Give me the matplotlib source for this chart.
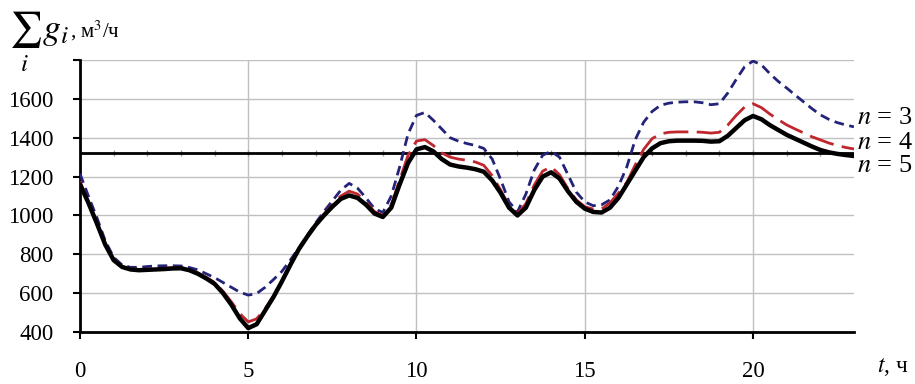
import numpy as np
import matplotlib
matplotlib.use("Agg")
import matplotlib.pyplot as plt

plt.rcParams['font.family'] = ['Liberation Serif', 'DejaVu Serif']
plt.rcParams['mathtext.fontset'] = 'stix'

# time axis, hours (quarter-hour steps)
t = np.arange(0, 23.01, 0.25)

# total flow for n = 3, 4, 5
g_n3 = [1215, 1100, 990, 870, 785, 745, 733, 733,
        737, 740, 741, 741, 740, 732, 720, 700,
        680, 655, 630, 605, 590, 598, 630, 670,
        712, 770, 832, 897, 960, 1020, 1075, 1130,
        1165, 1140, 1090, 1035, 1015, 1100, 1250, 1420,
        1515, 1530, 1490, 1445, 1400, 1382, 1370, 1360,
        1345, 1290, 1185, 1070, 1018, 1110, 1234, 1310,
        1330, 1300, 1210, 1120, 1070, 1050, 1055, 1080,
        1150, 1250, 1390, 1480, 1535, 1567, 1578, 1583,
        1585, 1585, 1580, 1570, 1575, 1630, 1700, 1765,
        1795, 1775, 1730, 1690, 1656, 1620, 1585, 1550,
        1518, 1495, 1478, 1466, 1456]
g_n4 = [1175, 1070, 965, 855, 775, 738, 725, 722,
        724, 726, 728, 731, 732, 722, 705, 682,
        655, 610, 555, 495, 452, 468, 520, 585,
        662, 745, 828, 893, 955, 1007, 1055, 1100,
        1125, 1110, 1068, 1020, 1000, 1055, 1183, 1310,
        1383, 1390, 1360, 1322, 1300, 1290, 1284, 1275,
        1258, 1205, 1131, 1050, 1010, 1060, 1157, 1228,
        1250, 1210, 1138, 1080, 1045, 1033, 1033, 1065,
        1115, 1170, 1260, 1340, 1395, 1420, 1428, 1430,
        1430, 1430, 1428, 1424, 1428, 1465, 1515, 1558,
        1575, 1555, 1522, 1493, 1466, 1445, 1425, 1405,
        1389, 1373, 1360, 1350, 1342]
g_n5 = [1160, 1065, 960, 850, 770, 735, 722, 718,
        720, 722, 724, 727, 728, 718, 700, 676,
        648, 600, 540, 470, 420, 440, 510, 580,
        660, 745, 825, 890, 950, 1000, 1045, 1085,
        1103, 1090, 1055, 1010, 992, 1040, 1160, 1270,
        1340, 1352, 1330, 1290, 1262, 1252, 1246, 1238,
        1225, 1180, 1116, 1040, 1000, 1040, 1131, 1200,
        1222, 1190, 1125, 1070, 1035, 1018, 1015, 1040,
        1090, 1160, 1230, 1300, 1345, 1372, 1382, 1385,
        1385, 1385, 1384, 1380, 1382, 1410, 1450, 1490,
        1512, 1495, 1465, 1440, 1415, 1395, 1375, 1355,
        1337, 1325, 1317, 1311, 1306]

# average level line
g_mean = 1320
hours = np.arange(1, 23)

fig = plt.figure(figsize=(9.15, 3.84), dpi=100)
ax = fig.add_axes([0.0874, 0.1354, 0.8459, 0.7083])

ax.set_xlim(0, 23)
ax.set_ylim(400, 1800)
ax.set_xticks([0, 5, 10, 15, 20])
ax.set_yticks(np.arange(400, 1801, 200))
ax.set_yticklabels([str(v) for v in range(400, 1700, 200)] + [''])

ax.grid(True, color='#c0c0c0', linewidth=1)
ax.set_axisbelow(True)

for s in ['top', 'right']:
    ax.spines[s].set_visible(False)
for s in ['left', 'bottom']:
    ax.spines[s].set_linewidth(2)
ax.tick_params(axis='x', direction='out', length=5, width=1.5, pad=16, labelsize=16.5)
ax.tick_params(axis='y', direction='out', length=5, width=1.5, pad=14, labelsize=16.5)

# horizontal reference line with small hour marks
ax.plot(hours, [g_mean] * len(hours), linestyle='none', marker='|',
        markersize=4, markeredgewidth=1, color='#9a9a9a', zorder=2)
ax.axhline(g_mean, color='black', linewidth=2, zorder=3)

ax.plot(t, g_n3, color='#23237a', linewidth=2, linestyle=(0, (3.5, 2)),
        solid_joinstyle='round', zorder=4)
ax.plot(t, g_n4, color='#c0262d', linewidth=2, linestyle=(0, (9, 3)),
        solid_joinstyle='round', zorder=5)
ax.plot(t, g_n5, color='black', linewidth=3.2, solid_joinstyle='round',
        solid_capstyle='round', zorder=6)

# series labels on the right
ax.text(23.1, 1500, '$n$ = 3', fontsize=19, va='center', ha='left', clip_on=False)
ax.text(23.1, 1375, '$n$ = 4', fontsize=19, va='center', ha='left', clip_on=False)
ax.text(23.1, 1255, '$n$ = 5', fontsize=19, va='center', ha='left', clip_on=False)

fig.text(0.010, 0.975, r'$\sum_{i}\,g_i$', fontsize=26, va='top', ha='left')
fig.text(0.076, 0.902, ', м$^3$/ч', fontsize=15, va='baseline', ha='left')
fig.text(0.958, 0.045, '$t$, ч', fontsize=17, va='center', ha='left')

fig.savefig('out.png', dpi=100)
